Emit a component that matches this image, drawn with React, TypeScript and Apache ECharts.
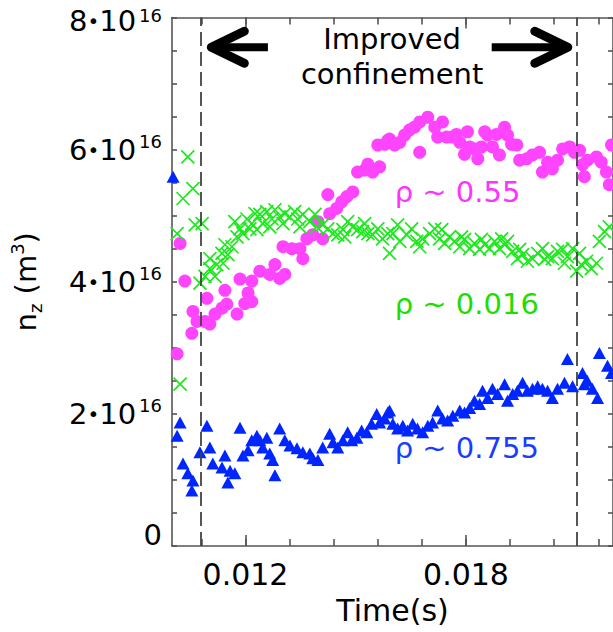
import React, { useEffect, useRef } from "react";
import * as echarts from "echarts";

// time in ms, density in 1e16 m^-3
const rho055: [number, number][] = [
  [10.14, 2.91], [10.22, 4.58], [10.35, 4.01], [10.54, 3.22], [10.57, 3.55], [10.68, 3.4], [10.9, 3.4], [10.95, 3.75],
  [11.03, 3.36], [11.17, 3.51], [11.36, 3.6], [11.44, 3.87], [11.49, 3.66], [11.77, 3.51], [11.85, 4.04], [11.98, 3.67],
  [12.07, 3.83], [12.17, 4.01], [12.17, 3.7], [12.39, 4.16], [12.66, 4.11], [12.8, 4.26], [12.93, 4.05], [13.02, 4.53],
  [13.07, 4.11], [13.26, 4.5], [13.48, 4.5], [13.56, 4.35], [13.67, 4.65], [13.83, 4.71], [13.97, 4.91], [14.1, 4.65],
  [14.24, 5.32], [14.29, 5.03], [14.48, 5.11], [14.62, 5.21], [14.76, 5.29], [14.92, 5.36], [15.05, 5.66], [15.24, 5.69],
  [15.33, 5.78], [15.46, 5.66], [15.6, 6.07], [15.65, 5.74], [15.79, 6.08], [15.87, 6.14], [15.92, 6.16], [16.06, 6.07],
  [16.2, 6.11], [16.33, 6.22], [16.47, 6.3], [16.6, 6.34], [16.74, 6.42], [16.74, 5.96], [16.96, 6.49], [17.15, 6.34],
  [17.23, 6.19], [17.36, 6.42], [17.47, 6.19], [17.61, 6.19], [17.74, 6.23], [17.83, 6.11], [17.96, 5.93], [18.04, 6.27],
  [18.1, 6.04], [18.23, 6.01], [18.32, 5.86], [18.42, 6.04], [18.51, 6.27], [18.59, 6.22], [18.72, 6.04], [18.83, 6.23],
  [18.91, 5.92], [19.05, 6.34], [19.13, 6.22], [19.24, 6.08], [19.38, 6.07], [19.46, 5.84], [19.65, 5.86], [19.81, 5.92],
  [20.0, 5.96], [20.08, 5.66], [20.22, 5.81], [20.35, 5.71], [20.49, 5.84], [20.63, 6.01], [20.82, 6.04], [20.95, 5.96],
  [21.09, 5.99], [21.17, 5.77], [21.22, 5.59], [21.3, 5.84], [21.55, 5.89], [21.68, 5.81], [21.82, 5.66], [21.9, 5.47],
  [21.96, 6.07],
];

const rho0016: [number, number][] = [
  [10.14, 4.73], [10.22, 2.45], [10.3, 5.26], [10.43, 5.89], [10.57, 5.41], [10.63, 4.86], [10.76, 3.98], [10.82, 4.88],
  [10.9, 4.08], [11.03, 4.35], [11.03, 4.2], [11.17, 4.08], [11.22, 4.26], [11.36, 4.43], [11.39, 4.28], [11.44, 4.56],
  [11.52, 4.41], [11.63, 4.53], [11.71, 4.91], [11.77, 4.68], [11.85, 4.8], [11.93, 4.73], [12.04, 4.95], [12.12, 4.8],
  [12.17, 4.88], [12.26, 5.03], [12.31, 4.79], [12.39, 5.02], [12.47, 4.88], [12.58, 5.06], [12.66, 4.83], [12.72, 4.95],
  [12.8, 5.09], [12.93, 4.98], [13.02, 4.88], [13.07, 5.03], [13.21, 4.98], [13.34, 5.06], [13.42, 4.95], [13.48, 4.83],
  [13.56, 5.02], [13.75, 4.91], [13.89, 5.02], [13.94, 4.83], [14.1, 4.86], [14.24, 4.8], [14.38, 4.73], [14.51, 4.71],
  [14.65, 4.79], [14.7, 4.68], [14.78, 4.91], [14.92, 4.83], [15.05, 4.79], [15.19, 4.76], [15.24, 4.88], [15.33, 4.73],
  [15.46, 4.71], [15.6, 4.8], [15.73, 4.65], [15.87, 4.73], [15.92, 4.43], [16.01, 4.73], [16.14, 4.86], [16.2, 4.61],
  [16.39, 4.71], [16.52, 4.8], [16.66, 4.61], [16.74, 4.53], [16.82, 4.65], [17.01, 4.73], [17.15, 4.8], [17.28, 4.65],
  [17.34, 4.79], [17.42, 4.58], [17.55, 4.68], [17.69, 4.61], [17.83, 4.53], [17.88, 4.68], [17.96, 4.64], [18.1, 4.5],
  [18.23, 4.58], [18.37, 4.49], [18.42, 4.64], [18.51, 4.56], [18.64, 4.5], [18.78, 4.61], [18.91, 4.5], [18.97, 4.65],
  [19.05, 4.56], [19.13, 4.61], [19.27, 4.46], [19.4, 4.35], [19.46, 4.49], [19.54, 4.41], [19.67, 4.31], [19.81, 4.35],
  [19.95, 4.43], [20.08, 4.5], [20.14, 4.34], [20.22, 4.38], [20.35, 4.35], [20.49, 4.46], [20.63, 4.49], [20.68, 4.28],
  [20.76, 4.38], [20.9, 4.5], [21.01, 4.16], [21.09, 4.43], [21.14, 4.26], [21.28, 4.31], [21.41, 4.2], [21.55, 4.28],
  [21.63, 4.61], [21.77, 4.76], [21.9, 4.83],
];

const rho0755: [number, number][] = [
  [10.03, 5.59], [10.14, 1.67], [10.22, 1.87], [10.3, 1.25], [10.43, 1.1], [10.54, 0.84], [10.57, 0.99], [10.76, 1.42],
  [10.95, 1.82], [11.03, 1.49], [11.11, 1.25], [11.36, 1.19], [11.44, 1.37], [11.52, 0.96], [11.58, 1.14], [11.71, 1.1],
  [11.85, 1.79], [11.93, 1.37], [12.07, 1.45], [12.17, 1.6], [12.31, 1.67], [12.39, 1.6], [12.47, 1.49], [12.58, 1.64],
  [12.66, 1.4], [12.74, 1.3], [12.8, 1.07], [12.93, 1.78], [13.07, 1.6], [13.21, 1.52], [13.4, 1.48], [13.56, 1.42],
  [13.75, 1.4], [13.83, 1.33], [13.97, 1.3], [14.1, 1.49], [14.29, 1.7], [14.38, 1.57], [14.51, 1.49], [14.65, 1.6],
  [14.78, 1.72], [14.89, 1.6], [15.03, 1.64], [15.16, 1.75], [15.3, 1.72], [15.43, 1.85], [15.57, 2.0], [15.65, 1.87],
  [15.79, 1.93], [15.87, 2.02], [15.92, 2.05], [16.01, 1.85], [16.14, 1.78], [16.28, 1.82], [16.41, 1.75], [16.55, 1.85],
  [16.68, 1.78], [16.82, 1.72], [16.96, 1.82], [17.09, 1.87], [17.23, 2.05], [17.36, 1.93], [17.5, 1.9], [17.64, 1.97],
  [17.83, 2.05], [17.96, 2.02], [18.1, 2.09], [18.23, 2.2], [18.37, 2.15], [18.45, 2.35], [18.59, 2.24], [18.72, 2.38],
  [18.86, 2.3], [19.05, 2.45], [19.13, 2.2], [19.27, 2.3], [19.4, 2.35], [19.54, 2.47], [19.67, 2.35], [19.81, 2.38],
  [19.95, 2.42], [20.08, 2.38], [20.22, 2.35], [20.35, 2.24], [20.49, 2.38], [20.68, 2.47], [20.76, 2.83], [20.9, 2.42],
  [21.17, 2.62], [21.22, 2.45], [21.3, 2.5], [21.44, 2.38], [21.58, 2.24], [21.63, 2.92], [21.85, 2.73], [21.96, 2.62],
];

// phase boundaries (ms)
const boundaries = [10.78, 21.0];
// arrows: [tip, tail, level]
const arrows: [number, number, number][] = [
  [11.07, 12.61, 7.55],
  [20.77, 18.7, 7.55],
];
const xMajorTicks = [12, 18];
const xMinorTicks = [10.8, 12.0, 13.2, 14.4, 15.6, 16.8, 18.0, 19.2, 20.4, 21.6];
const yLabelValues = [0, 2, 4, 6, 8];

const FONT = '"DejaVu Sans", "Liberation Sans", sans-serif';
const INK = "#000";
const AXIS = "#555";
const MAGENTA = "#ff44ff";
const GREEN = "#1ee81e";
const BLUE = "#0026ff";

export default function App() {
  const ref = useRef<HTMLDivElement>(null);
  useEffect(() => {
    if (!ref.current) return;
    const chart = echarts.init(ref.current, undefined, { renderer: "svg" });
    const tickX = (custom: number[], len: number, pos: "bottom" | "top", showLine: boolean, labels: boolean) => ({
      type: "value",
      position: pos,
      min: 10,
      max: 22,
      axisLine: { show: showLine, onZero: false, lineStyle: { color: AXIS, width: 1.6 } },
      axisTick: { show: true, inside: true, length: len, customValues: custom, lineStyle: { color: AXIS, width: 1.6 } },
      splitLine: { show: false },
      axisLabel: labels
        ? {
            show: true,
            customValues: xMajorTicks,
            formatter: (v: number) => (v / 1000).toFixed(3),
            fontFamily: FONT,
            fontSize: 30,
            lineHeight: 34,
            color: INK,
            margin: 11,
          }
        : { show: false },
    });
    const base = { fontFamily: FONT, color: INK };
    const annot = (formatter: string, color: string, size: number, align: string) => ({
      show: true,
      position: "inside",
      formatter,
      fontFamily: FONT,
      fontSize: size,
      lineHeight: size,
      color,
      opacity: 1,
      align,
      verticalAlign: "middle",
    });
    chart.setOption({
      animation: false,
      grid: { left: 172, top: 15, width: 441.6, height: 531 },
      xAxis: [
        {
          ...tickX(xMinorTicks, 7, "bottom", true, true),
          name: "Time(s)",
          nameLocation: "middle",
          nameGap: 48,
          nameTextStyle: { fontFamily: FONT, fontSize: 30, color: INK },
        },
        tickX(xMajorTicks, 11, "bottom", false, false),
        tickX(xMinorTicks, 7, "top", true, false),
        tickX(xMajorTicks, 11, "top", false, false),
      ],
      yAxis: [
        {
          type: "value",
          min: 0,
          max: 8,
          interval: 0.5,
          axisLine: { show: true, lineStyle: { color: AXIS, width: 1.6 } },
          axisTick: { show: true, inside: true, length: 5, lineStyle: { color: AXIS, width: 1.6 } },
          splitLine: { show: false },
          axisLabel: {
            customValues: yLabelValues,
            margin: 10,
            formatter: (v: number) => {
              if (v === 0) return "{b0|0}";
              if (v === 8) return "{b8|8}{d8|•}{b8|10}{s8|16}";
              return `{b|${v}}{d|•}{b|10}{s|16}`;
            },
            rich: {
              b: { ...base, fontSize: 29, lineHeight: 34 },
              d: { ...base, fontSize: 20, lineHeight: 34 },
              s: { ...base, fontSize: 18, lineHeight: 13, verticalAlign: "top", padding: [0, 0, 0, 3] },
              b8: { ...base, fontSize: 29, lineHeight: 34, padding: [6, 0, 0, 0] },
              d8: { ...base, fontSize: 20, lineHeight: 34, padding: [6, 0, 0, 0] },
              s8: { ...base, fontSize: 18, lineHeight: 13, verticalAlign: "top", padding: [6, 0, 0, 3] },
              b0: { ...base, fontSize: 29, lineHeight: 34, padding: [0, 0, 22, 0] },
            },
          },
          name: "{n|n}{sub|z}{n| (m}{sup|3}{n|)}",
          nameLocation: "middle",
          nameRotate: 90,
          nameGap: 128,
          nameTextStyle: {
            rich: {
              n: { ...base, fontSize: 29, lineHeight: 36 },
              sub: { ...base, fontSize: 18, lineHeight: 18, verticalAlign: "bottom" },
              sup: { ...base, fontSize: 18, lineHeight: 18, verticalAlign: "top" },
            },
          },
        },
        {
          type: "value",
          position: "right",
          min: 0,
          max: 8,
          interval: 0.5,
          axisLine: { show: true, lineStyle: { color: AXIS, width: 1.6 } },
          axisTick: { show: true, inside: true, length: 5, lineStyle: { color: AXIS, width: 1.6 } },
          splitLine: { show: false },
          axisLabel: { show: false },
        },
      ],
      series: [
        {
          name: "rho 0.755",
          type: "scatter",
          data: rho0755,
          symbol: "triangle",
          symbolSize: [13, 12],
          itemStyle: { color: BLUE, opacity: 1 },
          z: 2,
        },
        {
          name: "rho 0.55",
          type: "scatter",
          data: rho055,
          symbol: "circle",
          symbolSize: 13,
          itemStyle: { color: MAGENTA, opacity: 1 },
          z: 3,
        },
        {
          name: "rho 0.016",
          type: "scatter",
          data: rho0016,
          symbol: "path://M0,0L10,10M10,0L0,10",
          symbolSize: 13,
          itemStyle: { color: "none", borderColor: GREEN, borderWidth: 1.7, opacity: 1 },
          z: 4,
        },
        {
          name: "annotations",
          type: "scatter",
          symbolSize: 1,
          itemStyle: { color: "transparent", opacity: 1 },
          silent: true,
          z: 5,
          data: [
            { value: [15.99, 7.68], label: annot("Improved", INK, 29, "center") },
            { value: [15.99, 7.14], label: annot("confinement", INK, 29, "center") },
            { value: [16.06, 5.36], label: annot("ρ ~ 0.55", "#ff33ff", 29, "left") },
            { value: [16.06, 3.67], label: annot("ρ ~ 0.016", "#1edd00", 29, "left") },
            { value: [16.06, 1.48], label: annot("ρ ~ 0.755", "#1a3cff", 29, "left") },
          ],
          markLine: {
            silent: true,
            symbol: ["none", "none"],
            label: { show: false },
            lineStyle: { color: "#444", width: 1.8, type: [14, 6], opacity: 1 },
            data: boundaries.map((b) => ({ xAxis: b })),
          },
        },
        {
          name: "arrows",
          type: "custom",
          silent: true,
          z: 6,
          data: arrows,
          encode: { x: [0, 1], y: 2 },
          renderItem: (_p: any, api: any) => {
            const tip = api.coord([api.value(0), api.value(2)]);
            const tail = api.coord([api.value(1), api.value(2)]);
            const dir = tail[0] > tip[0] ? 1 : -1;
            const hl = 33;
            const hw = 16;
            return {
              type: "group",
              children: [
                {
                  type: "line",
                  shape: { x1: tip[0] + dir * 3, y1: tip[1], x2: tail[0], y2: tail[1] },
                  style: { stroke: "#000", lineWidth: 8 },
                },
                {
                  type: "polyline",
                  shape: { points: [[tip[0] + dir * hl, tip[1] - hw], [tip[0], tip[1]], [tip[0] + dir * hl, tip[1] + hw]] },
                  style: { stroke: "#000", fill: "none", lineWidth: 9, lineJoin: "round", lineCap: "round" },
                },
              ],
            };
          },
        },
      ],
    });
    return () => chart.dispose();
  }, []);
  return (
    <div style={{ position: "fixed", left: 0, top: 0, width: 613, height: 632, background: "#fff" }}>
      <div ref={ref} style={{ width: 613, height: 632 }} />
    </div>
  );
}
